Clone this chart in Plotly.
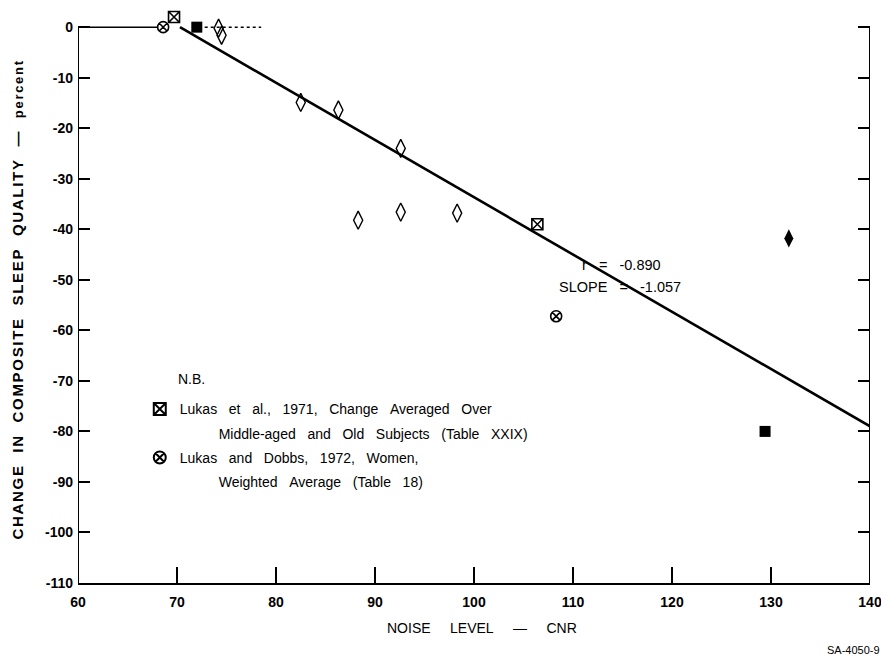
import plotly.graph_objects as go

# ---- data ----
diamond_x = [74.2, 74.5, 82.5, 86.3, 92.6, 88.3, 92.6, 98.3]
diamond_y = [-0.2, -1.6, -14.9, -16.4, -24.0, -38.2, -36.6, -36.8]

lukas1971_x = [69.7, 106.4]
lukas1971_y = [2.0, -39.0]

lukas1972_x = [68.6, 108.3]
lukas1972_y = [0.0, -57.2]

filled_square_x = [72.0, 129.4]
filled_square_y = [0.0, -80.0]

filled_diamond_x = [131.8]
filled_diamond_y = [-41.8]

fit_x = [70.3, 140.0]
fit_y = [0.0, -79.0]

x_ticks = [60, 70, 80, 90, 100, 110, 120, 130, 140]
y_ticks = [0, -10, -20, -30, -40, -50, -60, -70, -80, -90, -100, -110]

r_value = "-0.890"
slope_value = "-1.057"

legend_1971 = "Lukas et al., 1971, Change Averaged Over"
legend_1971b = "Middle-aged and Old Subjects (Table XXIX)"
legend_1972 = "Lukas and Dobbs, 1972, Women,"
legend_1972b = "Weighted Average (Table 18)"

FONT = "Liberation Sans, Arial, sans-serif"
NB = "\u00a0"


def spaced(s, n=3):
    return s.replace(" ", NB * n)


fig = go.Figure()

fig.add_trace(go.Scatter(x=fit_x, y=fit_y, mode="lines",
                         line=dict(color="black", width=2.6),
                         showlegend=False, hoverinfo="skip"))

fig.add_trace(go.Scatter(x=diamond_x, y=diamond_y, mode="markers",
                         marker=dict(symbol="diamond-tall-open", size=13, color="black",
                                     line=dict(width=1.4, color="black")),
                         showlegend=False, cliponaxis=False))

fig.add_trace(go.Scatter(x=filled_square_x, y=filled_square_y, mode="markers",
                         marker=dict(symbol="square", size=11, color="black"),
                         showlegend=False, cliponaxis=False))

fig.add_trace(go.Scatter(x=filled_diamond_x, y=filled_diamond_y, mode="markers",
                         marker=dict(symbol="diamond-tall", size=13, color="black"),
                         showlegend=False, cliponaxis=False))

fig.add_trace(go.Scatter(x=lukas1971_x, y=lukas1971_y, mode="markers",
                         name=spaced(legend_1971),
                         marker=dict(symbol="square-x-open", size=11, color="black",
                                     line=dict(width=1.6, color="black")),
                         legendgroup="a", cliponaxis=False))
fig.add_trace(go.Scatter(x=[None], y=[None], mode="markers",
                         name=NB * 10 + spaced(legend_1971b),
                         marker=dict(size=1, color="rgba(0,0,0,0)"),
                         legendgroup="b", hoverinfo="skip"))

fig.add_trace(go.Scatter(x=lukas1972_x, y=lukas1972_y, mode="markers",
                         name=spaced(legend_1972),
                         marker=dict(symbol="circle-x-open", size=11, color="black",
                                     line=dict(width=1.6, color="black")),
                         legendgroup="c", cliponaxis=False))
fig.add_trace(go.Scatter(x=[None], y=[None], mode="markers",
                         name=NB * 10 + spaced(legend_1972b),
                         marker=dict(size=1, color="rgba(0,0,0,0)"),
                         legendgroup="d", hoverinfo="skip"))

fig.update_xaxes(range=[60, 140], tickvals=x_ticks, ticktext=[str(v) for v in x_ticks],
                 showline=True, linecolor="black", linewidth=2, mirror=False,
                 ticks="inside", ticklen=16, tickwidth=1.5, tickcolor="black",
                 showgrid=False, zeroline=False, automargin=False,
                 tickfont=dict(family=FONT, size=14, color="black", weight="bold"),
                 ticklabelstandoff=5)
fig.update_yaxes(range=[-110, 3], tickvals=y_ticks, ticktext=[str(v) for v in y_ticks],
                 showline=False, mirror="ticks",
                 ticks="inside", ticklen=12, tickwidth=1.5, tickcolor="black",
                 showgrid=False, zeroline=False, automargin=False,
                 tickfont=dict(family=FONT, size=14, color="black", weight="bold"),
                 ticklabelstandoff=4)

# frame pieces: left and right borders up to 0, partial top segments seen in the scan
fig.add_shape(type="line", xref="x", yref="y", x0=60, x1=60, y0=-110, y1=0,
              line=dict(color="black", width=2))
fig.add_shape(type="line", xref="x", yref="y", x0=140, x1=140, y0=-110, y1=0,
              line=dict(color="black", width=2))
fig.add_shape(type="line", xref="x", yref="y", x0=60, x1=68, y0=0, y1=0,
              line=dict(color="black", width=1.5))
fig.add_shape(type="line", xref="x", yref="y", x0=72.8, x1=78.5, y0=0, y1=0,
              line=dict(color="black", width=1.5, dash="dot"))

ytitle = ("<span style='letter-spacing:1.7px'>"
          + spaced("CHANGE IN COMPOSITE SLEEP QUALITY", 2) + NB * 2 + "\u2014" + NB * 2
          + "<span style='font-size:13px'>percent</span></span>")

ann = []
ann.append(dict(xref="x", yref="y", x=119.1, y=-47.1, xanchor="right", yanchor="middle",
                text="r" + NB * 3 + "=" + NB * 3 + r_value, showarrow=False,
                font=dict(family=FONT, size=14.5, color="black")))
ann.append(dict(xref="x", yref="y", x=121.1, y=-51.5, xanchor="right", yanchor="middle",
                text="SLOPE" + NB * 3 + "=" + NB * 3 + slope_value, showarrow=False,
                font=dict(family=FONT, size=14.5, color="black")))
ann.append(dict(xref="x", yref="y", x=69.9, y=-69.7, xanchor="left", yanchor="middle",
                text="N.B.", showarrow=False,
                font=dict(family=FONT, size=14, color="black")))
ann.append(dict(xref="paper", yref="paper", x=-0.076, y=0.496, xanchor="center", yanchor="middle",
                textangle=-90, text=ytitle,
                showarrow=False, font=dict(family=FONT, size=15, color="black", weight="bold")))
ann.append(dict(xref="paper", yref="paper", x=0.51, y=-0.078, xanchor="center", yanchor="middle",
                text=spaced("NOISE LEVEL \u2014 CNR", 5),
                showarrow=False, font=dict(family=FONT, size=14, color="black")))
ann.append(dict(xref="paper", yref="paper", x=1.015, y=-0.117, xanchor="right", yanchor="middle",
                text="SA-4050-9", showarrow=False,
                font=dict(family=FONT, size=11, color="black")))

# the page adds an 8px body margin, so the figure is 8px smaller and margins shifted
fig.update_layout(
    width=881, height=653,
    margin=dict(l=70, r=19, t=4, b=78),
    paper_bgcolor="white", plot_bgcolor="white",
    annotations=ann,
    showlegend=True,
    legend=dict(x=0.078, xanchor="left", y=0.332, yanchor="top",
                font=dict(family=FONT, size=14, color="black"),
                bgcolor="rgba(0,0,0,0)", valign="middle", tracegroupgap=3,
                itemsizing="constant"),
)

fig.write_html("out.html")
